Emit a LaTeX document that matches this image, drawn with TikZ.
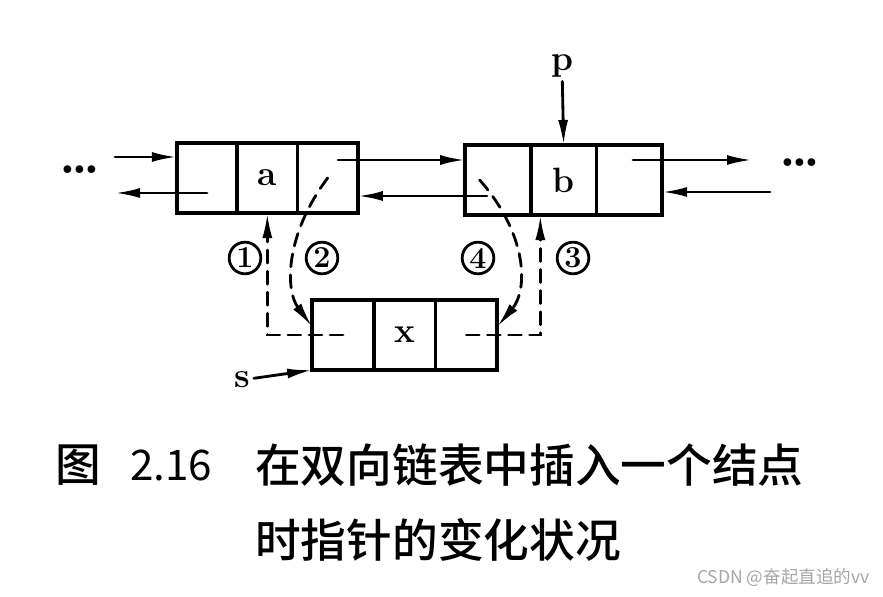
\documentclass[tikz,border=0pt]{standalone}
\usepackage{fontspec}
\usetikzlibrary{arrows.meta,positioning}
\newfontfamily\cjk{Noto Sans CJK SC}
\newfontfamily\cjkbold{Noto Sans CJK SC Medium}

\tikzset{
  cell/.style={draw,line width=3pt,minimum width=#1,minimum height=2.1cm,inner sep=0pt,outer sep=0pt},
  ptr/.style={->,line width=2.4pt},
  dptr/.style={->,line width=2.4pt,dash pattern=on 11pt off 7pt},
  tag/.style={circle,draw,line width=2.4pt,minimum size=0.95cm,inner sep=0pt,font=\fontsize{26}{26}\selectfont\bfseries},
  caption/.style={anchor=west,inner sep=0pt,font=\cjkbold\fontsize{39}{40}\selectfont},
}

\begin{document}
\begin{tikzpicture}[x=0.03cm,y=-0.03cm,>={Latex[length=7.5mm,width=3mm]},font=\fontsize{30}{32}\selectfont\bfseries,line cap=round]
\useasboundingbox (0,0) rectangle (883,597);
% node a
\node[cell=1.81cm] (a1) at (207,178) {};
\node[cell=1.81cm,right=0pt of a1] (a2) {a};
\node[cell=1.81cm,right=0pt of a2] (a3) {};
% node b
\node[cell=1.97cm] (b1) at (498,180) {};
\node[cell=1.97cm,right=0pt of b1] (b2) {b};
\node[cell=1.97cm,right=0pt of b2] (b3) {};
% node x
\node[cell=1.85cm] (x1) at (343,335) {};
\node[cell=1.85cm,right=0pt of x1] (x2) {x};
\node[cell=1.85cm,right=0pt of x2] (x3) {};
% dots and labels
\node (ldots) at (80,170) {\fontsize{46}{46}\selectfont.\kern-4pt.\kern-4pt.};
\node (rdots) at (800,163) {\fontsize{46}{46}\selectfont.\kern-4pt.\kern-4pt.};
\node (p) at (562,66) {p};
\node (s) at (242,380) {s};
\node[tag] (t1) at (245,258) {1};
\node[tag] (t2) at (322,258) {2};
\node[tag] (t4) at (478,258) {4};
\node[tag] (t3) at (573,258) {3};
% plain links
\coordinate (lin) at (115,157);
\coordinate (lout) at (115,193);
\coordinate (anext) at (338,160);
\coordinate (bprior) at (487,196);
\coordinate (bnext) at (633,160);
\coordinate (rout) at (752,160);
\coordinate (rin) at (770,192);
\draw[ptr] (lin) -- (lin -| a1.west);
\draw[ptr] (a1.center |- lout) -- (lout);
\draw[ptr] (anext) -- (anext -| b1.west);
\draw[ptr] (bprior) -- (bprior -| a3.east);
\draw[ptr] (bnext) -- (rout);
\draw[ptr] (rin) -- (rin -| b3.east);
\draw[ptr] (p) -- (b2.north);
\draw[ptr] (s) -- (x1.south west);
% changed links
\draw[dptr] (x1.center) -| (a2.south);
\draw[dptr] (a3.center) .. controls (285,235) and (285,290) .. ([yshift=0.25cm]x1.west);
\draw[dptr] (x3.center) -| ([xshift=-0.7cm]b2.south);
\draw[dptr] ([xshift=-0.55cm]b1.center) .. controls (528,235) and (528,290) .. ([yshift=0.25cm]x3.east);
% caption
\node[caption] (fig) at (55,465) {图};
\node[caption,font=\cjk\fontsize{36}{40}\selectfont] (num) at (130,465) {2.16};
\node[caption] (cap1) at (255,465) {在双向链表中插入一个结点};
\node[caption] (cap2) at (255,540) {时指针的变化状况};
\node[anchor=east,inner sep=0pt,text=gray!70,font=\cjk\fontsize{15}{16}\selectfont] (mark) at (870,578) {CSDN @奋起直追的vv};
\end{tikzpicture}
\end{document}
